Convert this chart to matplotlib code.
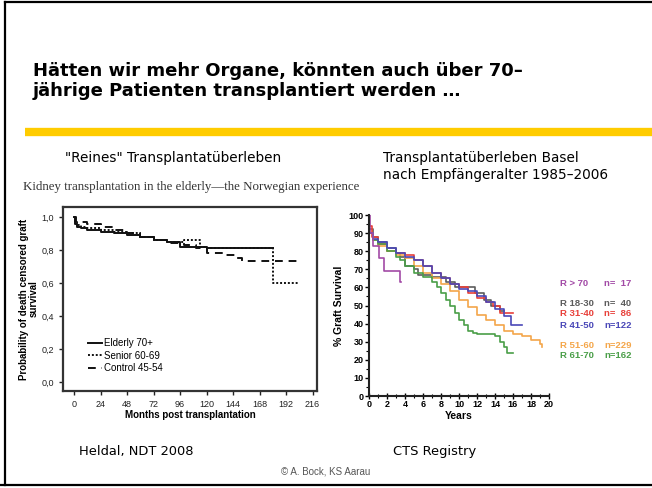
import matplotlib.pyplot as plt
import matplotlib.lines as mlines
import numpy as np

# --- data -------------------------------------------------------------
# left chart (Heldal, NDT 2008): months, survival probability
elderly_t = [0, 1, 3, 6, 12, 24, 36, 48, 60, 72, 84, 96, 108, 120, 180]
elderly_s = [1.0, 0.96, 0.94, 0.93, 0.92, 0.91, 0.90, 0.89, 0.88, 0.86, 0.85, 0.82, 0.82, 0.81, 0.81]
senior_t = [0, 1, 3, 6, 12, 24, 36, 48, 60, 72, 84, 100, 114, 120, 180, 203]
senior_s = [1.0, 0.97, 0.95, 0.94, 0.93, 0.92, 0.91, 0.90, 0.88, 0.86, 0.85, 0.86, 0.82, 0.81, 0.60, 0.60]
control_t = [0, 2, 12, 24, 36, 48, 60, 72, 84, 100, 110, 120, 135, 148, 152, 203]
control_s = [1.0, 0.97, 0.96, 0.94, 0.92, 0.90, 0.88, 0.86, 0.84, 0.83, 0.81, 0.78, 0.77, 0.75, 0.73, 0.73]
left_labels = ["Elderly 70+", "Senior 60-69", "Control 45-54"]

# right chart (CTS Registry Basel): years, % graft survival
r70_t = [0, 0.15, 0.43, 1.14, 1.68, 3.46, 3.57]
r70_s = [100, 90, 83, 76, 69, 63, 63]
r18_t = [0, 0.5, 1, 2, 3, 3.5, 4, 5, 5.5, 7, 8.6, 9.5, 11.8, 12.8, 13.5, 14.5, 15]
r18_s = [92, 88, 85, 82, 79, 77, 72, 70, 67, 66, 63, 60, 57, 53, 50, 47, 47]
r31_t = [0, 0.3, 1, 2, 3, 4, 5, 6, 7, 8, 9, 10, 11, 12, 13, 13.8, 14.5, 16]
r31_s = [94, 88, 84, 80, 79, 78, 75, 72, 68, 65, 62, 60, 57, 54, 52, 50, 46, 46]
r41_t = [0, 0.5, 1, 2, 3, 4, 5, 6, 7, 8, 9, 10, 11, 12, 13, 14, 15, 15.8, 17]
r41_s = [90, 87, 85, 82, 79, 77, 75, 72, 68, 65, 62, 59, 58, 55, 52, 48, 44, 39, 39]
r51_t = [0, 0.5, 1, 2, 3, 4, 5, 6, 7, 8, 9, 10, 11, 12, 13, 14, 15, 16, 17, 18, 19, 19.2]
r51_s = [90, 86, 83, 80, 78, 76, 72, 68, 65, 62, 58, 53, 49, 45, 42, 39, 36, 34, 33, 31, 29, 27]
r61_t = [0, 0.5, 1, 2, 3, 3.5, 4, 5, 6, 7, 7.5, 8, 8.5, 9, 9.5, 10, 10.5, 11, 11.5, 12, 13, 14, 14.5, 15, 15.3, 16]
r61_s = [90, 86, 84, 80, 77, 75, 72, 68, 66, 63, 60, 57, 53, 50, 46, 42, 39, 36, 35, 34, 34, 33, 30, 27, 24, 24]
right_groups = ["R > 70", "R 18-30", "R 31-40", "R 41-50", "R 51-60", "R 61-70"]
right_n = ["n=  17", "n=  40", "n=  86", "n=122", "n=229", "n=162"]
right_colors = ["#a24aa6", "#5c5c5c", "#e8403a", "#4a48b8", "#f4a64a", "#4a9e48"]

W, H = 652, 488
def fx(x):
    return x / W
def fy(y):
    return 1 - y / H

fig = plt.figure(figsize=(6.52, 4.88), dpi=100)

# slide frame
fig.add_artist(mlines.Line2D([fx(5), fx(5)], [fy(2), fy(485)], color="black", lw=1.6))
fig.add_artist(mlines.Line2D([fx(5), 1], [fy(2), fy(2)], color="black", lw=1.6))
fig.add_artist(mlines.Line2D([0, 1], [fy(485), fy(485)], color="black", lw=1.6))
fig.add_artist(mlines.Line2D([fx(25), 1], [fy(132), fy(132)], color="#ffcc00", lw=6, solid_capstyle="butt"))

fig.text(fx(33), fy(81), "Hätten wir mehr Organe, könnten auch über 70–\njährige Patienten transplantiert werden …",
         fontsize=13, fontweight="bold", va="center", ha="left", linespacing=1.12)

fig.text(fx(65), fy(158), "\"Reines\" Transplantatüberleben", fontsize=9.8, va="center")
fig.text(fx(383), fy(158), "Transplantatüberleben Basel", fontsize=9.8, va="center")
fig.text(fx(383), fy(175), "nach Empfängeralter 1985–2006", fontsize=9.8, va="center")
fig.text(fx(23), fy(187), "Kidney transplantation in the elderly—the Norwegian experience",
         fontsize=9.3, family="Liberation Serif", color="#333333", va="center")

fig.text(fx(79), fy(452), "Heldal, NDT 2008", fontsize=9.4, va="center")
fig.text(fx(393), fy(452), "CTS Registry", fontsize=9.4, va="center")
fig.text(fx(326), fy(472), "© A. Bock, KS Aarau", fontsize=7, family="Liberation Sans",
         color="#555555", ha="center", va="center")

# --- left chart -------------------------------------------------------
ax1 = fig.add_axes([fx(63), fy(391), fx(317) - fx(63), fy(207) - fy(391)])
ax1.step(elderly_t, elderly_s, where="post", color="#111111", lw=1.4, ls="-", label=left_labels[0])
ax1.step(senior_t, senior_s, where="post", color="#111111", lw=1.4, ls=(0, (1, 1)), label=left_labels[1])
ax1.step(control_t, control_s, where="post", color="#111111", lw=1.4, ls=(0, (4, 3)), label=left_labels[2])
ax1.set_xlim(-10, 220)
ax1.set_ylim(-0.055, 1.06)
ax1.set_xticks(np.arange(0, 217, 24))
ax1.set_yticks(np.arange(0, 1.01, 0.2))
ax1.set_yticklabels([f"{v:.1f}".replace(".", ",") for v in np.arange(0, 1.01, 0.2)])
for sp in ax1.spines.values():
    sp.set_linewidth(1.6)
    sp.set_color("#333333")
ax1.tick_params(labelsize=6.5, length=3, width=1, colors="#222222")
for lab in ax1.get_xticklabels() + ax1.get_yticklabels():
    lab.set_family("Liberation Sans")
ax1.set_xlabel("Months post transplantation", fontsize=7, fontweight="bold", family="Liberation Sans", labelpad=1)
ax1.set_ylabel("Probability of death censored graft\nsurvival", fontsize=7, fontweight="bold",
               family="Liberation Sans", labelpad=2, linespacing=0.9)
ax1.legend(loc="lower left", bbox_to_anchor=(0.08, 0.07), frameon=False,
           prop={"family": "Liberation Sans", "size": 7}, handlelength=1.4, handletextpad=0.2,
           labelspacing=0.25, borderpad=0)

# --- right chart ------------------------------------------------------
ax2 = fig.add_axes([fx(369), fy(396), fx(549) - fx(369), fy(215) - fy(396)])
series = [(r70_t, r70_s), (r18_t, r18_s), (r31_t, r31_s), (r41_t, r41_s), (r51_t, r51_s), (r61_t, r61_s)]
order = [1, 2, 4, 5, 3, 0]
for i in order:
    t, s = series[i]
    ax2.step(t, s, where="post", color=right_colors[i], lw=1.2)
ax2.set_xlim(0, 20)
ax2.set_ylim(0, 100)
ax2.set_xticks(np.arange(0, 21, 2))
ax2.set_xticks(np.arange(0, 21, 1), minor=True)
ax2.set_yticks(np.arange(0, 101, 10))
ax2.set_yticks(np.arange(0, 101, 5), minor=True)
ax2.spines["top"].set_visible(False)
ax2.spines["right"].set_visible(False)
ax2.spines["left"].set_linewidth(1.5)
ax2.spines["bottom"].set_linewidth(1.5)
ax2.spines["left"].set_color("#222222")
ax2.spines["bottom"].set_color("#222222")
ax2.tick_params(axis="x", which="major", direction="inout", length=4, width=1, labelsize=6.5, pad=1)
ax2.tick_params(axis="x", which="minor", direction="inout", length=3, width=0.8)
ax2.tick_params(axis="y", which="major", direction="out", length=3, width=1, labelsize=6.5, pad=1)
ax2.tick_params(axis="y", which="minor", direction="out", length=2, width=0.8)
for lab in ax2.get_xticklabels() + ax2.get_yticklabels():
    lab.set_family("Liberation Sans")
    lab.set_fontweight("bold")
ax2.set_xlabel("Years", fontsize=7.5, fontweight="bold", family="Liberation Sans", labelpad=1)
ax2.set_ylabel("% Graft Survival", fontsize=7.5, fontweight="bold", family="Liberation Sans", labelpad=3)

legend_y = [283, 304, 314, 325, 346, 355]
for i in range(len(right_groups)):
    fig.text(fx(560), fy(legend_y[i]), right_groups[i], color=right_colors[i], fontsize=6.8,
             family="Liberation Sans", fontweight="bold", va="center")
    fig.text(fx(604), fy(legend_y[i]), right_n[i], color=right_colors[i], fontsize=6.8,
             family="Liberation Sans", fontweight="bold", va="center")

fig.savefig("out.png", dpi=100)
